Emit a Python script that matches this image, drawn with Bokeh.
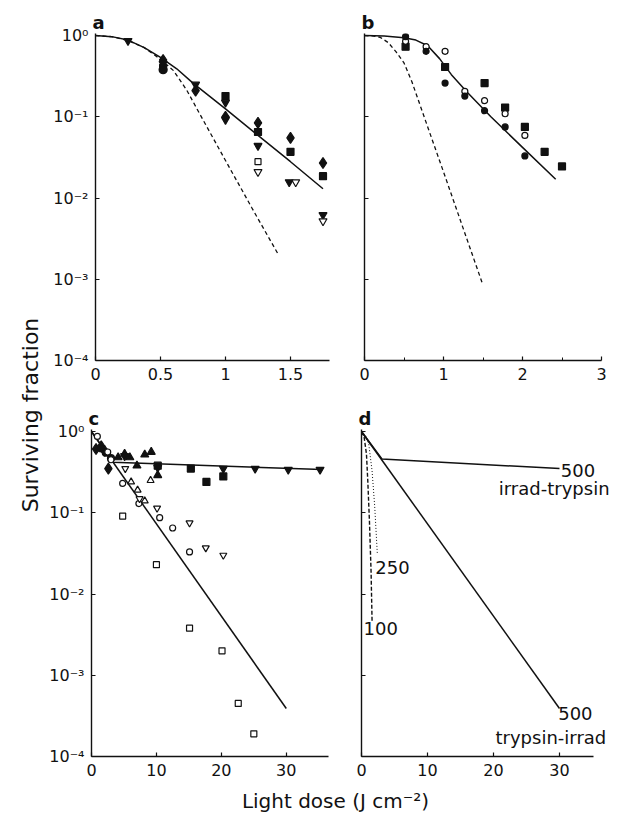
import math
from bokeh.plotting import figure
from bokeh.layouts import column, row
from bokeh.models import FixedTicker, Label, Range1d
from bokeh.embed import file_html
from bokeh.resources import INLINE

FONT = "DejaVu Sans"

# ---------------- data ----------------
DECADES = [1e-4, 1e-3, 1e-2, 1e-1, 1.0]
DECADE_LABELS = ["10\u207b\u2074", "10\u207b\u00b3", "10\u207b\u00b2", "10\u207b\u00b9", "10\u2070"]

A_XTICKS = [0, 0.5, 1, 1.5]
A_XLABELS = ["0", "0.5", "1", "1.5"]
B_XTICKS = [0, 1, 2, 3]
B_XLABELS = ["0", "1", "2", "3"]
B_XMINOR = [0.5, 1.5, 2.5]
CD_XTICKS = [0, 10, 20, 30]
CD_XLABELS = ["0", "10", "20", "30"]

# panel a
a_fit_x = [0, 0.125, 0.25, 0.375, 0.5, 0.625, 0.75, 1.0, 1.25, 1.5, 1.75]
a_fit_y = [1.0, 0.97, 0.88, 0.71, 0.54, 0.39, 0.26, 0.125, 0.059, 0.028, 0.013]
a_dash_x = [0, 0.125, 0.25, 0.375, 0.5, 0.6, 0.7, 0.8, 1.0, 1.2, 1.4]
a_dash_y = [1.0, 0.97, 0.87, 0.71, 0.51, 0.37, 0.215, 0.11, 0.029, 0.0077, 0.0021]
a_diamond_x = [0.52, 0.77, 1.0, 1.25, 1.5, 1.75]
a_diamond_y = [0.50, 0.21, 0.10, 0.084, 0.055, 0.027]
a_square_x = [0.52, 1.0, 1.25, 1.5, 1.75]
a_square_y = [0.40, 0.18, 0.065, 0.037, 0.0186]
a_tridown_x = [0.25, 0.52, 0.77, 1.0, 1.0, 1.25, 1.49, 1.75]
a_tridown_y = [0.86, 0.45, 0.25, 0.15, 0.092, 0.044, 0.0157, 0.0062]
a_circle_x = [0.52]
a_circle_y = [0.38]
a_osquare_x = [1.25]
a_osquare_y = [0.028]
a_otridown_x = [1.25, 1.54, 1.75]
a_otridown_y = [0.021, 0.0157, 0.0052]

# panel b
b_fit_x = [0, 0.25, 0.5, 0.65, 0.8, 0.95, 1.1, 1.3, 1.6, 2.0, 2.42]
b_fit_y = [1.0, 0.985, 0.94, 0.88, 0.75, 0.52, 0.33, 0.2, 0.1, 0.042, 0.017]
b_dash_x = [0, 0.1, 0.2, 0.3, 0.4, 0.5, 0.6, 0.8, 1.0, 1.2, 1.49]
b_dash_y = [1.0, 0.99, 0.95, 0.82, 0.63, 0.46, 0.27, 0.075, 0.021, 0.0058, 0.0009]
b_circle_x = [0.52, 0.78, 1.02, 1.27, 1.52, 1.78, 2.03]
b_circle_y = [0.97, 0.64, 0.26, 0.18, 0.119, 0.075, 0.033]
b_ocircle_x = [0.52, 0.78, 1.02, 1.27, 1.52, 1.78, 2.03]
b_ocircle_y = [0.85, 0.73, 0.64, 0.206, 0.158, 0.109, 0.059]
b_square_x = [0.52, 1.02, 1.52, 1.78, 2.03, 2.28, 2.5]
b_square_y = [0.73, 0.41, 0.26, 0.13, 0.075, 0.037, 0.0245]

# panel c
c_steep_x = [0, 30]
c_steep_y = [1.0, 0.00039]
c_flat_x = [0, 3.3, 35.5]
c_flat_y = [1.0, 0.42, 0.34]
c_diamond_x = [0.7, 1.5, 2.0, 2.6]
c_diamond_y = [0.61, 0.66, 0.58, 0.35]
c_circle_x = [1.5, 2.2, 3.0]
c_circle_y = [0.62, 0.55, 0.47]
c_ocircle_x = [0.9, 2.5, 3.0, 4.8, 7.3, 10.5, 12.5, 15.1]
c_ocircle_y = [0.87, 0.56, 0.45, 0.23, 0.13, 0.087, 0.065, 0.033]
c_triup_x = [4.1, 5.1, 5.9, 7.0, 8.2, 9.2, 10.2]
c_triup_y = [0.48, 0.53, 0.48, 0.38, 0.52, 0.56, 0.29]
c_tridown_x = [5.1, 10.2, 20.3, 25.2, 30.3, 35.2]
c_tridown_y = [0.50, 0.36, 0.35, 0.35, 0.34, 0.34]
c_square_x = [10.2, 15.3, 17.7, 20.3]
c_square_y = [0.38, 0.35, 0.24, 0.28]
c_otriup_x = [6.1, 7.1, 8.2, 9.1]
c_otriup_y = [0.24, 0.19, 0.14, 0.25]
c_otridown_x = [5.2, 7.4, 10.1, 15.1, 17.6, 20.3]
c_otridown_y = [0.35, 0.149, 0.114, 0.075, 0.037, 0.030]
c_osquare_x = [4.8, 10.0, 15.1, 20.1, 22.6, 25.0]
c_osquare_y = [0.091, 0.023, 0.0038, 0.0020, 0.00045, 0.00019]

# panel d
d_it_x = [0, 3.1, 30]
d_it_y = [1.0, 0.46, 0.35]
d_ti_x = [0, 30]
d_ti_y = [1.0, 0.00039]
d_100_x = [0, 0.4, 0.75, 0.95, 1.2, 1.45, 1.6]
d_100_y = [1.0, 0.85, 0.53, 0.25, 0.08, 0.019, 0.0047]
d_250_x = [0, 0.6, 1.1, 1.6, 2.0, 2.4]
d_250_y = [1.0, 0.9, 0.7, 0.33, 0.12, 0.031]
d_text = ["500", "irrad-trypsin", "250", "100", "500", "trypsin-irrad"]
d_text_x = [30.2, 20.8, 2.1, 0.3, 29.8, 20.3]
d_text_y = [0.33, 0.20, 0.0215, 0.00376, 0.00034, 0.00017]

# ---------------- helpers ----------------
FRAME_H = 327
INK = "#111111"


def panel(letter, x_end, frame_w, xticks, xlabels, xminor, show_ylabels, bl, br, bt, bb,
          x_axis_end=None):
    p = figure(title=letter, x_range=Range1d(0, x_end), y_range=Range1d(1e-4, 1.06),
               y_axis_type="log", frame_width=frame_w, frame_height=FRAME_H,
               min_border_left=bl, min_border_right=br, min_border_top=bt, min_border_bottom=bb,
               output_backend="svg", toolbar_location=None)
    p.title.text_font = FONT
    p.title.text_font_size = "18px"
    p.title.text_font_style = "bold"
    p.title.text_color = INK
    p.title.align = "left"
    p.title.standoff = 2
    p.title.offset = -3
    p.grid.visible = False
    p.outline_line_color = None
    p.background_fill_color = "white"
    p.border_fill_color = "white"
    for ax in (p.xaxis[0], p.yaxis[0]):
        ax.axis_line_color = INK
        ax.axis_line_width = 1.4
        ax.major_tick_line_color = INK
        ax.major_tick_line_width = 1.2
        ax.major_tick_in = 4
        ax.major_tick_out = 0
        ax.minor_tick_in = 3
        ax.minor_tick_out = 0
        ax.minor_tick_line_color = INK
        ax.major_label_text_font = FONT
        ax.major_label_text_font_size = "16px"
        ax.major_label_text_color = INK
        ax.major_label_standoff = 7
    p.xaxis.ticker = FixedTicker(ticks=xticks, minor_ticks=xminor)
    p.xaxis.major_label_overrides = dict(zip(xticks, xlabels))
    if x_axis_end is not None:
        p.xaxis.bounds = (0, x_axis_end)
    if not xminor:
        p.xaxis.minor_tick_line_color = None
    p.yaxis.ticker = FixedTicker(ticks=DECADES, minor_ticks=[])
    p.yaxis.minor_tick_line_color = None
    if show_ylabels:
        p.yaxis.major_label_overrides = dict(zip(DECADES, DECADE_LABELS))
    else:
        p.yaxis.major_label_overrides = {t: "" for t in DECADES}
    return p


def pts(p, xs, ys, marker, filled, size):
    p.scatter(xs, ys, marker=marker, size=size,
              fill_color=INK if filled else "white",
              line_color=INK, line_width=1.2)


def curve(p, xs, ys, dash="solid", width=1.5):
    p.line(xs, ys, line_color=INK, line_width=width, line_dash=dash)


# panel a
pa = panel("a", 1.8, 234, A_XTICKS, A_XLABELS, [], True, 50, 11, 33, 40)
curve(pa, a_fit_x, a_fit_y)
curve(pa, a_dash_x, a_dash_y, "4 3", 1.3)
pts(pa, a_circle_x, a_circle_y, "circle", True, 8)
pts(pa, a_square_x, a_square_y, "square", True, 7)
pts(pa, a_diamond_x, a_diamond_y, "diamond", True, 11)
pts(pa, a_tridown_x, a_tridown_y, "inverted_triangle", True, 8)
pts(pa, a_osquare_x, a_osquare_y, "square", False, 6)
pts(pa, a_otridown_x, a_otridown_y, "inverted_triangle", False, 8)

# panel b
pb = panel("b", 3.0, 237, B_XTICKS, B_XLABELS, B_XMINOR, False, 24, 24, 33, 40)
curve(pb, b_fit_x, b_fit_y)
curve(pb, b_dash_x, b_dash_y, "4 3", 1.3)
pts(pb, b_square_x, b_square_y, "square", True, 7)
pts(pb, b_ocircle_x, b_ocircle_y, "circle", False, 6)
pts(pb, b_circle_x, b_circle_y, "circle", True, 6)

# panel c
pc = panel("c", 36.5, 237, CD_XTICKS, CD_XLABELS, [], True, 46, 12, 29, 30)
curve(pc, c_steep_x, c_steep_y)
curve(pc, c_flat_x, c_flat_y)
pts(pc, c_diamond_x, c_diamond_y, "diamond", True, 11)
pts(pc, c_circle_x, c_circle_y, "circle", True, 7)
pts(pc, c_ocircle_x, c_ocircle_y, "circle", False, 6)
pts(pc, c_triup_x, c_triup_y, "triangle", True, 8)
pts(pc, c_tridown_x, c_tridown_y, "inverted_triangle", True, 8)
pts(pc, c_square_x, c_square_y, "square", True, 7)
pts(pc, c_otriup_x, c_otriup_y, "triangle", False, 7)
pts(pc, c_otridown_x, c_otridown_y, "inverted_triangle", False, 7)
pts(pc, c_osquare_x, c_osquare_y, "square", False, 6)

# panel d (frame wider than the drawn axis so the curve labels are not clipped)
pd = panel("d", 40.0, 264, CD_XTICKS, CD_XLABELS, [], False, 21, 0, 29, 30, x_axis_end=35.2)
curve(pd, d_it_x, d_it_y)
curve(pd, d_ti_x, d_ti_y)
curve(pd, d_100_x, d_100_y, "4 2", 1.4)
curve(pd, d_250_x, d_250_y, "1 2", 1.0)
for t, tx, ty in zip(d_text, d_text_x, d_text_y):
    pd.add_layout(Label(x=tx, y=ty, text=t, text_font=FONT, text_font_size="18px",
                        text_color=INK, text_baseline="middle", text_align="left"))


def blank(w, h):
    f = figure(x_range=Range1d(0, 1), y_range=Range1d(0, 1), frame_width=w, frame_height=h,
               min_border=0, min_border_left=0, min_border_right=0, min_border_top=0,
               min_border_bottom=0, output_backend="svg", toolbar_location=None)
    f.axis.visible = False
    f.grid.visible = False
    f.outline_line_color = None
    return f


ylab = blank(45, 786)
ylab.add_layout(Label(x=30 / 45, y=371.5 / 786, text="Surviving fraction", angle=math.pi / 2,
                      text_align="center", text_baseline="middle", text_font=FONT,
                      text_font_size="22px", text_color=INK))

xlab = blank(625, 32)
xlab.add_layout(Label(x=335 / 625, y=18 / 32, text="Light dose (J cm\u207b\u00b2)",
                      text_align="center", text_baseline="middle", text_font=FONT,
                      text_font_size="20px", text_color=INK))

layout = column(row(ylab, column(row(pa, pb), row(pc, pd))), xlab)

open("out.html", "w").write(file_html(layout, INLINE))
